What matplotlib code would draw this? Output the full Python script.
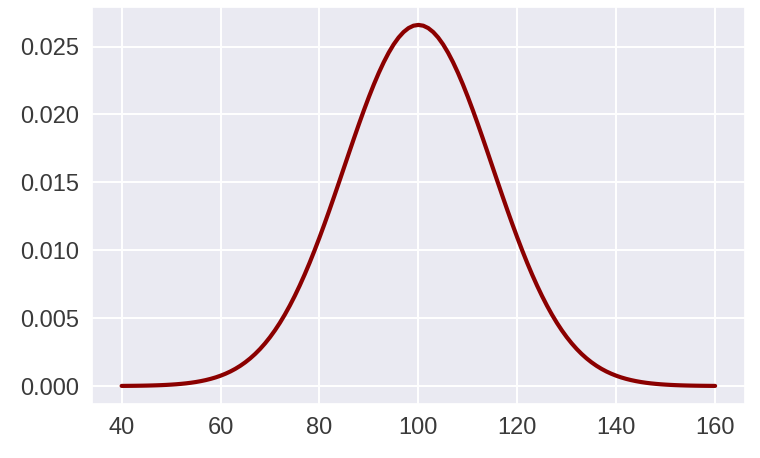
import matplotlib
matplotlib.use("Agg")
import matplotlib.pyplot as plt
import seaborn as sns

# density curve, one value per unit from 40 to 100;
# the right half mirrors the left (the curve is symmetric about 100)
x_vals = list(range(40, 161))
left_half = [0.0000089, 0.0000116, 0.0000151, 0.0000195, 0.0000250, 0.0000320,
             0.0000408, 0.0000518, 0.0000654, 0.0000822, 0.000103, 0.000128,
             0.000159, 0.000196, 0.000241, 0.000295, 0.000360, 0.000437,
             0.000528, 0.000634, 0.000760, 0.000906, 0.001074, 0.001269,
             0.001493, 0.001748, 0.002038, 0.002365, 0.002732, 0.003143,
             0.003599, 0.004103, 0.004657, 0.005263, 0.005921, 0.006632,
             0.007395, 0.008209, 0.009072, 0.009982, 0.010934, 0.011924,
             0.012946, 0.013993, 0.015057, 0.016131, 0.017205, 0.018268,
             0.019313, 0.020325, 0.021296, 0.022215, 0.023070, 0.023852,
             0.024551, 0.025159, 0.025667, 0.026069, 0.026361, 0.026537]
peak = [0.026596]
density = left_half + peak + left_half[::-1]
x_ticks = [40, 60, 80, 100, 120, 140, 160]

sns.set_theme(style="darkgrid")
plt.rcParams["font.family"] = ["Liberation Sans", "DejaVu Sans"]

fig, ax = plt.subplots(figsize=(7.6, 4.58), dpi=100)
ax.plot(x_vals, density, color="#8b0000", linewidth=3.0)
ax.set_xticks(x_ticks)
ax.tick_params(labelsize=17, colors="#3a3a3a")
ax.grid(linewidth=1.4)

fig.subplots_adjust(left=0.121, right=0.98, top=0.985, bottom=0.118)
fig.savefig("out.png", dpi=100)
